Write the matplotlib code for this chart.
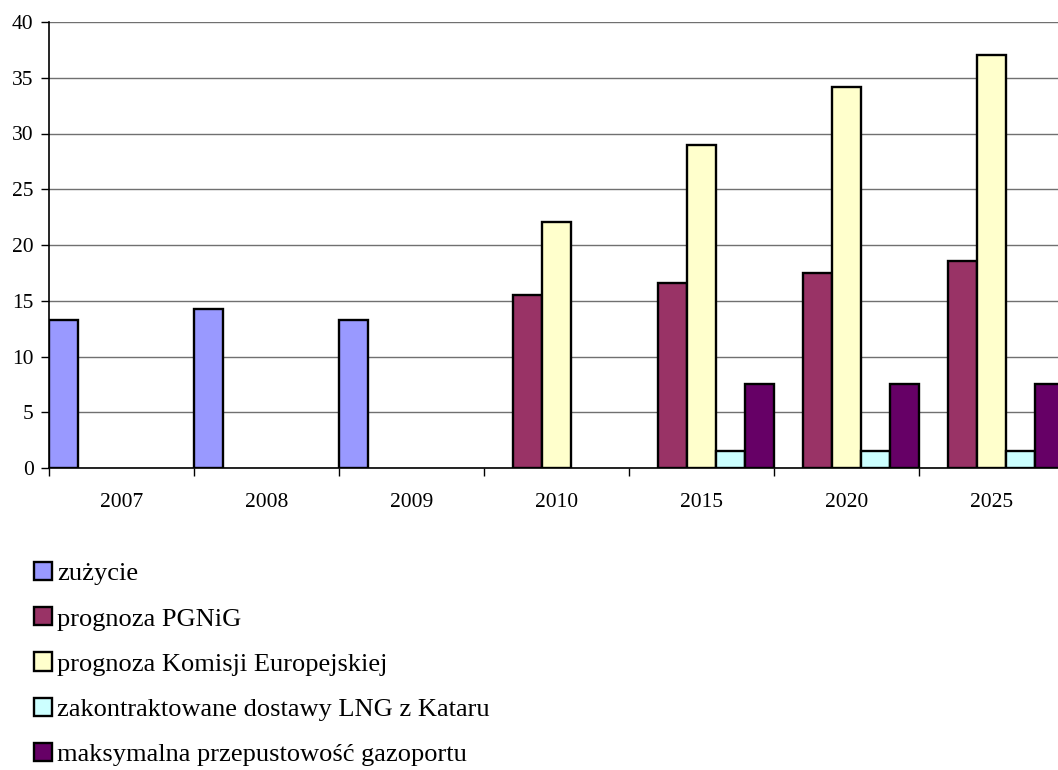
import numpy as np
import matplotlib
matplotlib.use("Agg")
import matplotlib.pyplot as plt

years = ["2007", "2008", "2009", "2010", "2015", "2020", "2025"]
zuzycie = [13.3, 14.3, 13.3, np.nan, np.nan, np.nan, np.nan]
prognoza_pgnig = [np.nan, np.nan, np.nan, 15.5, 16.6, 17.5, 18.6]
prognoza_ke = [np.nan, np.nan, np.nan, 22.1, 29.0, 34.2, 37.0]
lng_katar = [np.nan, np.nan, np.nan, np.nan, 1.5, 1.5, 1.5]
przepustowosc = [np.nan, np.nan, np.nan, np.nan, 7.5, 7.5, 7.5]

series = [
    ("zużycie", zuzycie, "#9999FF"),
    ("prognoza PGNiG", prognoza_pgnig, "#993366"),
    ("prognoza Komisji Europejskiej", prognoza_ke, "#FFFFCC"),
    ("zakontraktowane dostawy LNG z Kataru", lng_katar, "#CCFFFF"),
    ("maksymalna przepustowość gazoportu", przepustowosc, "#660066"),
]

plt.rcParams["font.family"] = ["Liberation Serif", "DejaVu Serif"]

fig = plt.figure(figsize=(10.58, 7.70), dpi=100)
ax = fig.add_axes([49 / 1058, 1 - 468 / 770, 1015 / 1058, 446 / 770])

x = np.arange(len(years))
n = len(series)
width = 1.0 / n
handles = []
for k, (label, vals, color) in enumerate(series):
    h = ax.bar(x - 0.5 + (k + 0.5) * width, vals, width, color=color,
               edgecolor="black", linewidth=1.7, label=label, zorder=3)
    handles.append(h)

ax.set_xlim(-0.5, len(years) - 0.5)
ax.set_ylim(0, 40)
ax.set_yticks(np.arange(0, 41, 5))
ax.yaxis.grid(True, color="#707070", linewidth=1.0, zorder=0)
ax.set_axisbelow(True)

ax.set_xticks(np.arange(len(years) + 1) - 0.5)
ax.set_xticklabels([])
ax.set_xticks(x, minor=True)
ax.set_xticklabels(years, minor=True)
ax.tick_params(axis="x", which="major", length=6, width=1, direction="out")
ax.tick_params(axis="x", which="minor", length=0, pad=18, labelsize=15.5)
ax.tick_params(axis="y", length=6, width=1, direction="out", pad=5, labelsize=15.5)

for side in ["top", "right"]:
    ax.spines[side].set_visible(False)
for side in ["left", "bottom"]:
    ax.spines[side].set_linewidth(1.2)

fig.legend(handles=handles, loc="upper left", bbox_to_anchor=(34 / 1058, 1 - 562 / 770),
           frameon=False, fontsize=19, handlelength=0.68, handleheight=0.68,
           handletextpad=0.2, labelspacing=0.83, borderaxespad=0, borderpad=0)

fig.savefig("out.png", dpi=100)
